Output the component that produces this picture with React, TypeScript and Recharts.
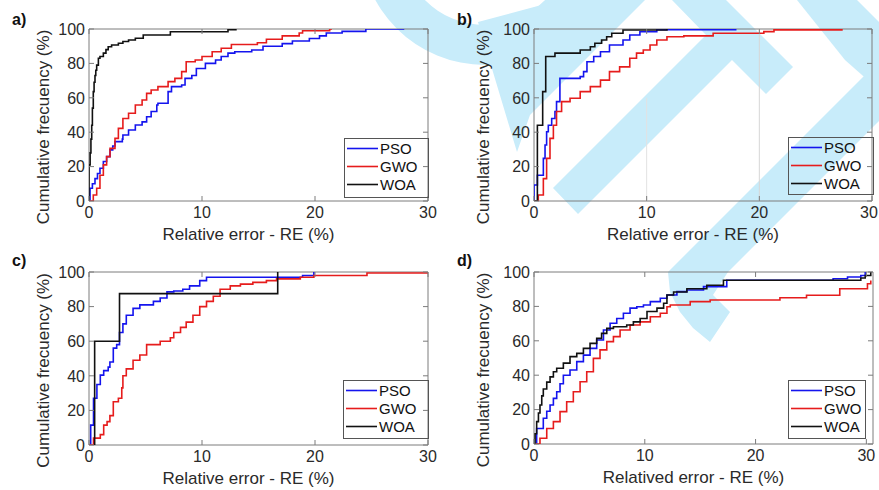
import React from 'react';
import { LineChart, Line, XAxis, YAxis, ReferenceArea, ReferenceLine } from 'recharts';

const FONT = '"Liberation Sans", Arial, Helvetica, sans-serif';
const AXIS_COLOR = '#7c7c7c';
const TEXT_COLOR = '#2a2a2a';
const WM_COLOR = '#c8ecfa';

const X_TICKS = [0, 10, 20, 30];
const Y_TICKS = [0, 20, 40, 60, 80, 100];
const SERIES_NAMES = ['PSO', 'GWO', 'WOA'];
const SERIES_COLORS = ['#1414ee', '#e61c1c', '#111111'];
const PANEL_LETTERS = ['a)', 'b)', 'c)', 'd)'];
const X_LABELS = ['Relative error - RE (%)', 'Relative error - RE (%)', 'Relative error - RE (%)', 'Relatived error - RE (%)'];
const Y_LABEL = 'Cumulative frecuency (%)';
const X_MAX = [30, 30, 30, 30.6];

// ---- Panel a ----
const A_PSO_X = [0, 0.09, 0.3, 0.53, 0.75, 0.97, 1.27, 1.56, 1.86, 2.1, 2.3, 2.95, 3.0, 3.5, 4.1, 4.7, 5.1, 5.5, 6.0, 6.1, 7.0, 7.3, 8.2, 8.5, 9.1, 9.5, 10.3, 11.2, 11.7, 12.3, 12.9, 14.4, 15.4, 17.1, 18.0, 19.5, 20.4, 21.0, 22.4, 24.5, 27.9];
const A_PSO_Y = [0, 7.4, 10, 13, 16, 19, 23, 25.8, 29.7, 32, 34.5, 36, 38.4, 41.3, 44.2, 46, 49, 52, 55.8, 56.8, 63.6, 66.5, 67.4, 71.3, 73, 77, 80, 82, 84, 86, 86.8, 87.8, 90, 91.5, 93, 94.5, 96, 97.7, 98.6, 100, 100];
const A_GWO_X = [0, 0.38, 0.68, 0.97, 1.27, 1.56, 1.86, 2.3, 2.6, 3.0, 3.5, 4.1, 4.7, 5.1, 5.5, 6.1, 7.0, 7.6, 8.2, 8.6, 9.4, 10.0, 10.9, 11.7, 12.6, 14.9, 15.7, 17.1, 18.6, 18.9, 21.3, 21.5];
const A_GWO_Y = [0, 3.5, 7.4, 15, 21, 25.8, 30.6, 36.4, 42.2, 48, 51, 55.8, 58.7, 62.6, 64.5, 66.5, 69.4, 71.3, 75.2, 81, 82, 84, 86.8, 88.8, 91, 92, 94, 96, 97.7, 99, 100, 100];
const A_WOA_X = [0, 0, 0.1, 0.17, 0.24, 0.3, 0.38, 0.45, 0.53, 0.6, 0.68, 0.83, 0.97, 1.27, 1.5, 1.7, 2.0, 2.6, 3.0, 3.5, 4.1, 4.8, 7.2, 12.3, 13.0];
const A_WOA_Y = [0, 21, 28, 36, 44, 54, 63.6, 69, 73, 76, 79, 83, 84, 86, 88, 89.7, 90.7, 91.7, 92.7, 93.6, 94.6, 96.5, 98.4, 99.6, 100];

// ---- Panel b ----
const B_PSO_X = [0, 0, 0.3, 0.83, 0.98, 1.12, 1.27, 1.57, 1.86, 2.0, 2.3, 4.1, 4.4, 4.7, 5.3, 5.9, 6.7, 7.9, 8.5, 9.4, 10.9, 17.9];
const B_PSO_Y = [0, 9.3, 15, 24.8, 32.6, 40.3, 44, 48, 52, 57.8, 71.3, 72.3, 75.2, 81, 84, 86.8, 90.7, 93.6, 96.5, 98.4, 99.6, 100];
const B_GWO_X = [0, 0.38, 0.83, 1.12, 1.42, 1.72, 2.0, 2.45, 3.2, 4.1, 5.0, 5.9, 6.7, 7.6, 8.5, 9.1, 9.7, 10.3, 10.9, 11.8, 13.3, 15.9, 20.4, 21.3, 27.4];
const B_GWO_Y = [0, 3.5, 13, 24.8, 36.4, 44, 52, 57.8, 59.7, 63.6, 66.5, 70.3, 75.2, 78, 83, 86, 87.8, 90.7, 93.6, 95.5, 96, 97.5, 98.5, 99.5, 99.5];
const B_WOA_X = [0, 0.3, 0.77, 1.04, 1.86, 4.1, 5.0, 5.4, 6.0, 6.45, 6.9, 7.9, 11.8];
const B_WOA_Y = [0, 44, 63.6, 84, 86, 87.8, 89.7, 91.7, 93.6, 95.5, 97.5, 99.4, 100];

// ---- Panel c ----
const C_PSO_X = [0, 0.15, 0.4, 0.7, 1.0, 1.3, 1.7, 1.85, 2.15, 2.45, 2.7, 3.0, 3.3, 3.9, 4.5, 5.7, 6.3, 6.9, 7.5, 8.3, 8.9, 9.8, 10.4, 18.9, 19.9];
const C_PSO_Y = [0, 11.5, 27, 35, 40.4, 43, 45, 48, 56, 58, 65, 70, 75, 79, 81, 83, 85, 88.5, 89, 90, 92, 95, 97, 98, 100];
const C_GWO_X = [0, 0.4, 1.0, 1.3, 1.6, 1.85, 2.15, 2.6, 2.9, 3.0, 3.3, 3.9, 4.5, 5.1, 6.3, 7.2, 7.5, 8.1, 8.6, 9.2, 9.8, 10.4, 11.0, 11.6, 12.5, 13.4, 14.5, 15.7, 16.6, 18.7, 19.9, 24.6, 30];
const C_GWO_Y = [0, 4, 6, 11.5, 13.5, 17, 25, 27, 33, 40, 44, 49, 52, 58, 60, 62, 65, 68, 71, 75, 80, 83, 86, 90, 92, 93, 94, 95, 96, 97, 98, 99.4, 99.4];
const C_WOA_X = [0.5, 0.5, 2.7, 16.7];
const C_WOA_Y = [0, 60, 87.5, 100];

// ---- Panel d ----
const D_PSO_X = [0, 0.24, 0.84, 1.15, 1.45, 1.75, 2.05, 2.35, 2.65, 3.25, 3.86, 4.46, 5.06, 5.66, 6.27, 6.87, 7.47, 8.07, 8.67, 9.28, 9.88, 10.5, 11.4, 12.0, 12.9, 13.8, 15.3, 17.4, 27.0, 28.3, 29.5, 29.9];
const D_PSO_Y = [0, 9, 15, 19, 22.7, 26.5, 30.4, 35, 40, 43, 47.9, 51.7, 55.6, 60.5, 66.3, 70.2, 73, 76, 79, 79.8, 80.8, 82.8, 84.7, 86.6, 88.6, 89.5, 91.5, 95.2, 96.1, 97.1, 98, 100];
const D_GWO_X = [0, 0.54, 1.15, 1.75, 2.35, 2.95, 3.55, 4.16, 4.76, 5.36, 5.96, 6.57, 7.17, 7.77, 8.67, 9.58, 10.5, 11.4, 12.0, 12.3, 14.1, 15.9, 21.0, 22.2, 24.6, 27.6, 30.1, 30.4];
const D_GWO_Y = [0, 3.3, 9, 13, 18.8, 24.6, 30.4, 36.2, 42, 49.8, 54.7, 59.5, 62.4, 66.3, 69.2, 71, 74, 76, 79.8, 80.8, 82.8, 83.7, 83.7, 85, 86.5, 90.3, 93.2, 95];
const D_WOA_X = [0, 0.1, 0.24, 0.4, 0.54, 0.7, 0.84, 1.15, 1.45, 1.75, 2.05, 2.65, 3.25, 3.86, 4.46, 5.06, 5.66, 6.1, 6.57, 7.17, 8.37, 8.97, 9.58, 10.2, 11.1, 11.7, 12.0, 12.6, 13.8, 15.6, 17.1, 29.5, 29.9, 30.4];
const D_WOA_Y = [0, 6, 13, 18, 22.7, 28, 32, 36, 39, 42, 44, 47, 50.8, 52.7, 55.6, 58.5, 61.4, 64.3, 67.2, 68.2, 69.2, 71, 73, 77, 79, 81.8, 86.6, 88.4, 90.3, 92.3, 95.2, 96.5, 98, 100];

const toPoints = (xs: number[], ys: number[]) => xs.map((x, i) => ({ x, y: ys[i] }));

const PANEL_SERIES = [
  [toPoints(A_PSO_X, A_PSO_Y), toPoints(A_GWO_X, A_GWO_Y), toPoints(A_WOA_X, A_WOA_Y)],
  [toPoints(B_PSO_X, B_PSO_Y), toPoints(B_GWO_X, B_GWO_Y), toPoints(B_WOA_X, B_WOA_Y)],
  [toPoints(C_PSO_X, C_PSO_Y), toPoints(C_GWO_X, C_GWO_Y), toPoints(C_WOA_X, C_WOA_Y)],
  [toPoints(D_PSO_X, D_PSO_Y), toPoints(D_GWO_X, D_GWO_Y), toPoints(D_WOA_X, D_WOA_Y)],
];

// layout (positions / sizes only)
const Y_AXIS_W = 60;
const X_AXIS_H = 30;
const LAYOUT = [
  { left: 0, top: 0, w: 440, h: 245, margin: { top: 29, right: 12, bottom: 14, left: 29 }, legend: { x: 344, y: 138, w: 84, h: 59 } },
  { left: 440, top: 0, w: 439, h: 245, margin: { top: 29, right: 7, bottom: 14, left: 34 }, legend: { x: 348, y: 137, w: 85, h: 57 } },
  { left: 0, top: 245, w: 440, h: 245, margin: { top: 27, right: 12, bottom: 15, left: 29 }, legend: { x: 343, y: 135, w: 85, h: 58 } },
  { left: 440, top: 245, w: 439, h: 245, margin: { top: 27, right: 6, bottom: 16, left: 34 }, legend: { x: 348, y: 135, w: 77, h: 58 } },
];

function Watermark() {
  return (
    <svg width={879} height={490} style={{ position: 'absolute', left: 0, top: 0 }}>
      <path d="M 360 -60 A 125 125 0 0 0 610 -60 L 570 -60 A 85 85 0 0 1 400 -60 Z" fill={WM_COLOR} />
      <polygon points="478,22 517,152 530,115 645,0 560,0" fill={WM_COLOR} />
      <polygon points="553,188 706,35 672,0 726,0 793,67 766,94 732,60 578,214" fill={WM_COLOR} />
      <polygon points="879,61 668,272 670,292 680,312 693,328 710,342 730,312 713,295 728,272 879,121" fill={WM_COLOR} />
      <polygon points="797,0 857,0 879,22 879,90 845,60" fill={WM_COLOR} />
    </svg>
  );
}

function Panel({ idx }: { idx: number }) {
  const L = LAYOUT[idx];
  const xMax = X_MAX[idx];
  const pl = L.margin.left + Y_AXIS_W;
  const pt = L.margin.top;
  const pr = L.w - L.margin.right;
  const pb = L.h - L.margin.bottom - X_AXIS_H;
  const series = PANEL_SERIES[idx];

  const renderXTick = (p: any) => {
    const x = p.x;
    const tx = Math.min(x, L.w - 10);
    return (
      <g>
        <line x1={x} x2={x} y1={pb} y2={pb - 5} stroke={AXIS_COLOR} strokeWidth={1} />
        <line x1={x} x2={x} y1={pt} y2={pt + 5} stroke={AXIS_COLOR} strokeWidth={1} />
        <text x={tx} y={pb + 17} textAnchor="middle" fontSize={16} fill={TEXT_COLOR} fontFamily={FONT}>
          {p.payload.value}
        </text>
      </g>
    );
  };
  const renderYTick = (p: any) => {
    const y = p.y;
    return (
      <g>
        <line x1={pl} x2={pl + 5} y1={y} y2={y} stroke={AXIS_COLOR} strokeWidth={1} />
        <line x1={pr} x2={pr - 5} y1={y} y2={y} stroke={AXIS_COLOR} strokeWidth={1} />
        <text x={pl - 4} y={y} dy="0.36em" textAnchor="end" fontSize={16} fill={TEXT_COLOR} fontFamily={FONT}>
          {p.payload.value}
        </text>
      </g>
    );
  };

  const lg = L.legend;
  const rowOff = [10.5, 28.5, 46.5];

  return (
    <div style={{ position: 'absolute', left: L.left, top: L.top, width: L.w, height: L.h }}>
      <LineChart width={L.w} height={L.h} margin={L.margin}>
        <XAxis
          type="number"
          dataKey="x"
          domain={[0, xMax]}
          ticks={X_TICKS}
          interval={0}
          allowDataOverflow
          axisLine={false}
          tickLine={false}
          height={X_AXIS_H}
          tick={renderXTick}
        />
        <YAxis
          type="number"
          domain={[0, 100]}
          ticks={Y_TICKS}
          interval={0}
          allowDataOverflow
          axisLine={false}
          tickLine={false}
          width={Y_AXIS_W}
          tick={renderYTick}
        />
        {idx === 1 && <ReferenceLine x={20} stroke="#d6d6d6" strokeWidth={1} />}
        {idx === 1 && <ReferenceLine segment={[{ x: 10, y: 0 }, { x: 10, y: 60 }]} stroke="#e2e2e2" strokeWidth={1} />}
        <ReferenceArea x1={0} x2={xMax} y1={0} y2={100} fill="none" stroke={AXIS_COLOR} strokeWidth={1} />
        {series.map((pts, i) => (
          <Line
            key={SERIES_NAMES[i]}
            data={pts}
            dataKey="y"
            name={SERIES_NAMES[i]}
            type="stepAfter"
            stroke={SERIES_COLORS[i]}
            strokeWidth={1.6}
            dot={false}
            activeDot={false}
            isAnimationActive={false}
          />
        ))}
      </LineChart>
      <svg width={L.w} height={L.h} style={{ position: 'absolute', left: 0, top: 0, pointerEvents: 'none' }}>
        <text x={idx % 2 === 0 ? 12 : 17} y={idx < 2 ? 25 : 21} fontSize={16} fontWeight="bold" fill="#111" fontFamily={FONT}>
          {PANEL_LETTERS[idx]}
        </text>
        <text x={(pl + pr) / 2 - 10} y={pb + 39} textAnchor="middle" fontSize={17} fill={TEXT_COLOR} fontFamily={FONT}>
          {X_LABELS[idx]}
        </text>
        <text
          transform={`translate(49,${(pt + pb) / 2 + 12}) rotate(-90)`}
          textAnchor="middle"
          fontSize={17}
          fill={TEXT_COLOR}
          fontFamily={FONT}
        >
          {Y_LABEL}
        </text>
        <rect x={lg.x + 0.5} y={lg.y + 0.5} width={lg.w} height={lg.h} fill="none" stroke="#555" strokeWidth={1} />
        {SERIES_NAMES.map((n, i) => (
          <g key={n}>
            <line x1={lg.x + 3} x2={lg.x + 34} y1={lg.y + rowOff[i]} y2={lg.y + rowOff[i]} stroke={SERIES_COLORS[i]} strokeWidth={1.6} />
            <text x={lg.x + 36} y={lg.y + rowOff[i]} dy="0.36em" fontSize={15} fill="#111" fontFamily={FONT}>
              {n}
            </text>
          </g>
        ))}
      </svg>
    </div>
  );
}

export default function App() {
  return (
    <div style={{ position: 'absolute', left: 0, top: 0, width: 879, height: 490, background: '#fff', overflow: 'hidden', fontFamily: FONT }}>
      <Watermark />
      {[0, 1, 2, 3].map((i) => (
        <Panel key={i} idx={i} />
      ))}
    </div>
  );
}
